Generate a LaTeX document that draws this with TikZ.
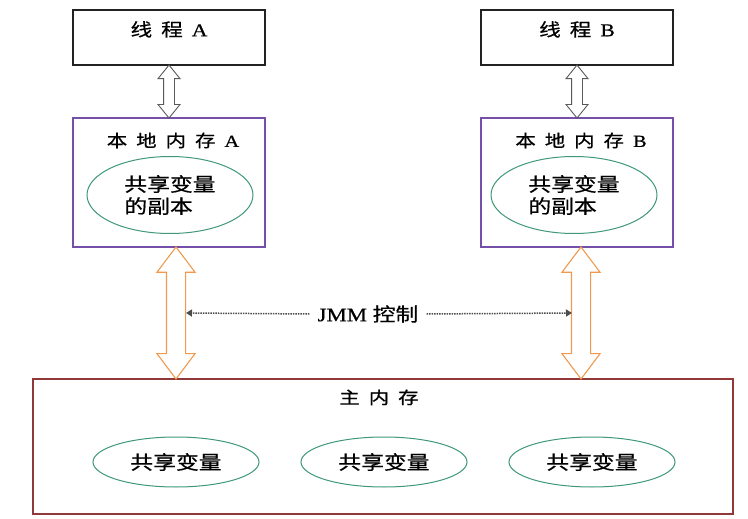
\documentclass[tikz,border=0pt]{standalone}
\usepackage{fontspec}
\setmainfont[FakeStretch=1.2,FakeBold=0.6]{Liberation Serif}
\newfontfamily\cjk[FakeStretch=1.2,FakeBold=0.6]{Noto Sans CJK SC}
\usetikzlibrary{shapes.geometric,shapes.arrows,calc,positioning,arrows.meta}
\definecolor{threadline}{HTML}{222222}
\definecolor{localline}{HTML}{7450A8}
\definecolor{varline}{HTML}{3F9878}
\definecolor{mainline}{HTML}{913838}
\definecolor{bigarrow}{HTML}{F09A50}
\newcommand{\gp}{\hspace{9pt}}
\tikzset{
  thread/.style={rectangle,draw=threadline,line width=1.3pt,minimum width=192pt,
    minimum height=55pt,inner sep=0pt},
  localmem/.style={rectangle,draw=localline,line width=1.1pt,minimum width=192pt,
    minimum height=129pt,inner sep=0pt},
  mainmem/.style={rectangle,draw=mainline,line width=1.2pt,minimum width=700pt,
    minimum height=135pt,inner sep=0pt},
  var/.style={ellipse,draw=varline,line width=1pt,minimum width=166pt,
    minimum height=#1,inner sep=0pt,align=left,
    font=\cjk\fontsize{19}{22}\selectfont},
  var/.default=50pt,
  lbl/.style={inner sep=0pt,font=\fontsize{18}{20}\selectfont},
  smallarrow/.style={double arrow,draw=gray!70!black,line width=0.9pt,rotate=90,
    inner xsep=0pt,inner ysep=5pt,double arrow head extend=5.5pt,
    double arrow tip angle=78,minimum height=53pt},
  bigarrowshape/.style={double arrow,draw=bigarrow,line width=1.1pt,rotate=90,
    inner xsep=0pt,inner ysep=9pt,double arrow head extend=9.5pt,
    double arrow tip angle=74,minimum height=132pt},
  jmmline/.style={densely dotted,line width=1.5pt,draw=gray!60!black,
    -{Triangle[width=7pt,length=6pt]}}
}
\begin{document}
\begin{tikzpicture}[x=1pt,y=-1pt]
  \useasboundingbox (0,0) rectangle (748,519);

  % threads and their local memory
  \node [thread] (thA) at (169,37.5) {};
  \node [thread] (thB) at (577,37.5) {};
  \node [lbl] (thAt) at ($(thA.north)+(0,20)$) {{\cjk 线\gp 程}\gp A};
  \node [lbl] (thBt) at ($(thB.north)+(0,20)$) {{\cjk 线\gp 程}\gp B};

  \node [localmem] (locA) at (169,182.5) {};
  \node [localmem] (locB) at (577,182.5) {};
  \node [lbl,font=\fontsize{17}{20}\selectfont] (locAt) at ($(locA.north)+(4,23)$) {{\cjk 本\gp 地\gp 内\gp 存}\gp A};
  \node [lbl,font=\fontsize{17}{20}\selectfont] (locBt) at ($(locB.north)+(4,23)$) {{\cjk 本\gp 地\gp 内\gp 存}\gp B};
  \node [var=77pt] (cpA) at ($(locA.center)+(1,12.5)$) {共享变量\\的副本};
  \node [var=77pt] (cpB) at ($(locB.center)+(-3,12.5)$) {共享变量\\的副本};

  % main memory
  \node [mainmem] (main) at (383,446.5) {};
  \node [lbl,font=\cjk\fontsize{17}{20}\selectfont] (maint) at ($(main.north)+(-4,19)$) {主\gp 内\gp 存};
  \node [var] (v1) at (176,462) {共享变量};
  \node [var] (v2) at (384,462) {共享变量};
  \node [var] (v3) at (592,462) {共享变量};

  % arrows between the levels
  \node [smallarrow] (sA) at ($(thA.south)!0.5!(locA.north)$) {};
  \node [smallarrow] (sB) at ($(thB.south)!0.5!(locB.north)$) {};
  \node [bigarrowshape] (bA) at ($(locA.south)!0.5!(locA.south |- main.north)+(7,0)$) {};
  \node [bigarrowshape] (bB) at ($(locB.south)!0.5!(locB.south |- main.north)+(4,0)$) {};

  % JMM control
  \node [lbl,font=\fontsize{19}{22}\selectfont] (jmm) at (368,314) {JMM {\cjk 控制}};
  \coordinate (jA) at ($(bA.center)+(10,0)$);
  \coordinate (jB) at ($(bB.center)+(-9,0)$);
  \draw [jmmline] ($(jmm.west)+(-8,0)$) -- (jA);
  \draw [jmmline] ($(jmm.east)+(8,0)$) -- (jB);
\end{tikzpicture}
\end{document}
